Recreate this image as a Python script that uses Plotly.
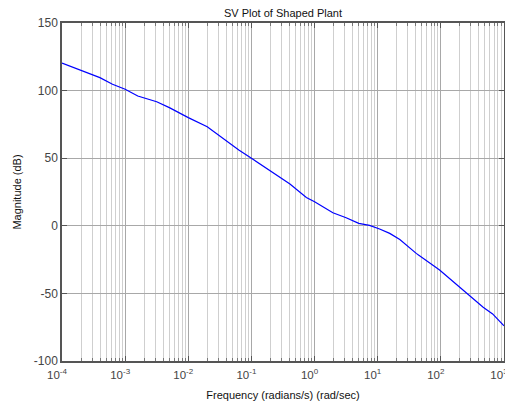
import numpy as np
import plotly.graph_objects as go

# Data (log10 frequency, magnitude in dB)
log_freq = [-4.0, -3.7, -3.4, -3.2, -3.0, -2.8, -2.5, -2.3, -2.0, -1.7, -1.42, -1.2,
            -1.0, -0.71, -0.39, -0.13, 0.0, 0.29, 0.5, 0.7, 0.87, 1.03, 1.19, 1.35,
            1.61, 1.98, 2.30, 2.67, 2.82, 3.0]
magnitude_db = [120.4, 115.2, 109.6, 104.7, 101.0, 96.0, 91.8, 87.4, 80.0, 73.3, 63.5, 56.0,
                50.0, 40.8, 30.9, 21.0, 17.8, 9.7, 6.0, 1.8, 0.3, -2.4, -5.6, -10.2,
                -20.4, -32.7, -45.5, -60.3, -65.2, -74.0]
freq = [10 ** v for v in log_freq]

major_ticks = [1e-4, 1e-3, 1e-2, 1e-1, 1e0, 1e1, 1e2, 1e3]
major_labels = ["10<sup>-4</sup>", "10<sup>-3</sup>", "10<sup>-2</sup>", "10<sup>-1</sup>",
                "10<sup>0</sup>", "10<sup>1</sup>", "10<sup>2</sup>", "10<sup>3</sup>"]
minor_ticks = [d * m for d in major_ticks[:-1] for m in range(2, 10)]
y_ticks = [-100, -50, 0, 50, 100, 150]
y_labels = ["-100", "-50", "0", "50", "100", "150"]

fig = go.Figure()
fig.add_trace(go.Scatter(x=freq, y=magnitude_db, mode="lines",
                         line=dict(color="#0000ff", width=1.2), showlegend=False))

font_family = "Liberation Sans, Arial, sans-serif"
# the page body has an 8px default margin, so the figure is sized to fill the rest
fig.update_layout(
    width=505, height=397,
    margin=dict(l=54, r=9, t=15, b=44, autoexpand=False),
    paper_bgcolor="white", plot_bgcolor="white",
    font=dict(family=font_family, size=11, color="#222"),
    title=dict(text="SV Plot of Shaped Plant", x=0.5, xref="paper", xanchor="center",
               y=1 - 5.5 / 397, yref="container", yanchor="middle",
               font=dict(size=11, color="#111")),
)
fig.update_xaxes(
    type="log", range=[-4, 3], automargin=False, ticklabeloverflow="allow",
    ticklabelshift=-5, ticklabelstandoff=2,
    tickmode="array", tickvals=major_ticks, ticktext=major_labels,
    showline=True, linecolor="#555", linewidth=1.5, mirror="ticks",
    ticks="inside", ticklen=5, tickcolor="#555",
    showgrid=True, gridcolor="#a8a8a8", gridwidth=1,
    minor=dict(tickmode="array", tickvals=minor_ticks, showgrid=True,
               gridcolor="#cfcfcf", ticks="inside", ticklen=3, tickcolor="#777"),
    tickfont=dict(size=11.5, color="#444"),
    title=dict(text="Frequency (radians/s) (rad/sec)", font=dict(size=11, color="#111"), standoff=12),
    zeroline=False,
)
fig.update_yaxes(
    range=[-100, 150], tickmode="array", tickvals=y_ticks, ticktext=y_labels, automargin=False,
    showline=True, linecolor="#555", linewidth=1.5, mirror="ticks",
    ticks="inside", ticklen=5, tickcolor="#555",
    showgrid=True, gridcolor="#a8a8a8", gridwidth=1,
    tickfont=dict(size=12, color="#444"),
    title=dict(text="Magnitude (dB)", font=dict(size=11, color="#111"), standoff=10),
    zeroline=False,
)

# hide page scrollbars so the rightmost tick label is not covered
fig.write_html("out.html",
               post_script="document.documentElement.style.overflow='hidden';"
                           "document.body.style.overflow='hidden';")
